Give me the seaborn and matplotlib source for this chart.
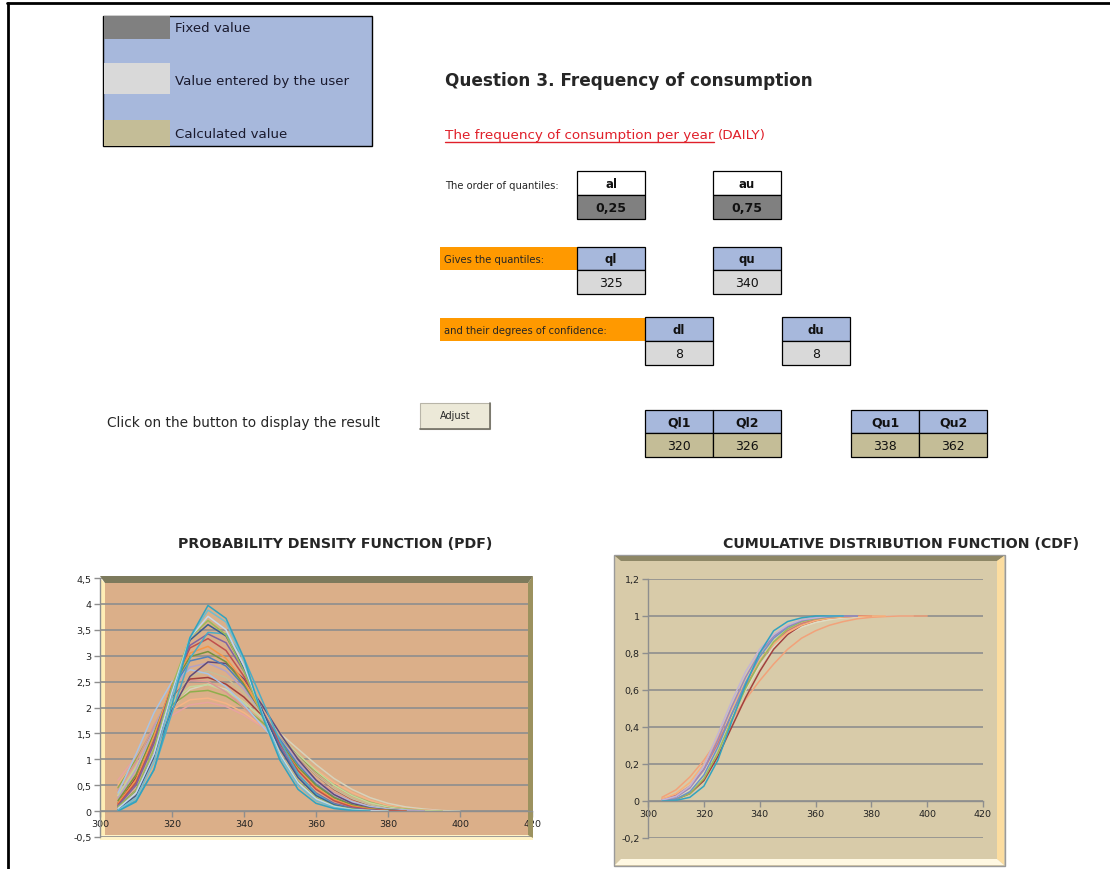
import pandas as pd
import matplotlib
matplotlib.use("Agg")
import matplotlib.pyplot as plt
from matplotlib.patches import Rectangle, Polygon
import seaborn as sns

W, H = 1110, 870

# ── DATA ─────────────────────────────────────────────────────
legend_labels = ["Fixed value", "Value entered by the user", "Calculated value"]
order_names = ["al", "au"]
order_values = ["0,25", "0,75"]
quantile_names = ["ql", "qu"]
quantile_values = ["325", "340"]
conf_names = ["dl", "du"]
conf_values = ["8", "8"]
ql_names = ["Ql1", "Ql2"]
ql_values = ["320", "326"]
qu_names = ["Qu1", "Qu2"]
qu_values = ["338", "362"]

x_ticks = [300, 320, 340, 360, 380, 400, 420]
pdf_yticks = [-0.5, 0, 0.5, 1, 1.5, 2, 2.5, 3, 3.5, 4, 4.5]
cdf_yticks = [-0.2, 0, 0.2, 0.4, 0.6, 0.8, 1, 1.2]

grid_x = [305, 310, 315, 320, 325, 330, 335, 340, 345, 350,
          355, 360, 365, 370, 375, 380, 385, 390, 395, 400]

# PDF curves (values read at grid_x, each curve ends where its list ends)
pdf_aqua = [0.0, 0.18, 0.8, 2.05, 3.35, 3.97, 3.72, 2.95, 1.85, 0.98, 0.42, 0.15, 0.05, 0.01, 0.0]
pdf_aqua_lt = [0.02, 0.25, 0.95, 2.2, 3.35, 3.88, 3.65, 2.9, 1.9, 1.05, 0.5, 0.2, 0.07, 0.02, 0.0]
pdf_ice = [0.05, 0.35, 1.1, 2.3, 3.35, 3.76, 3.5, 2.8, 1.9, 1.1, 0.55, 0.24, 0.09, 0.03, 0.01, 0.0]
pdf_green = [0.08, 0.4, 1.2, 2.4, 3.35, 3.68, 3.4, 2.7, 1.85, 1.1, 0.57, 0.26, 0.1, 0.04, 0.01, 0.0]
pdf_navy = [0.04, 0.3, 1.05, 2.3, 3.3, 3.6, 3.38, 2.75, 1.95, 1.2, 0.65, 0.3, 0.12, 0.04, 0.01, 0.0]
pdf_teal = [0.02, 0.2, 0.8, 1.9, 2.95, 3.45, 3.42, 2.95, 2.15, 1.35, 0.72, 0.33, 0.13, 0.04, 0.01, 0.0]
pdf_purple = [0.1, 0.5, 1.3, 2.4, 3.2, 3.42, 3.25, 2.7, 1.95, 1.25, 0.7, 0.35, 0.15, 0.06, 0.02, 0.0]
pdf_red = [0.12, 0.55, 1.35, 2.4, 3.15, 3.33, 3.1, 2.6, 1.95, 1.3, 0.78, 0.42, 0.2, 0.08, 0.03, 0.01, 0.0]
pdf_orange = [0.15, 0.6, 1.45, 2.45, 3.05, 3.18, 2.95, 2.5, 1.9, 1.3, 0.8, 0.45, 0.22, 0.1, 0.04, 0.01, 0.0]
pdf_olive = [0.2, 0.7, 1.5, 2.4, 2.98, 3.08, 2.88, 2.45, 1.9, 1.33, 0.85, 0.5, 0.26, 0.12, 0.05, 0.02, 0.0]
pdf_blue = [0.1, 0.55, 1.4, 2.35, 2.9, 2.98, 2.8, 2.42, 1.92, 1.38, 0.9, 0.52, 0.27, 0.12, 0.05, 0.02, 0.0]
pdf_grape = [0.08, 0.4, 1.1, 1.95, 2.6, 2.88, 2.85, 2.55, 2.05, 1.5, 1.0, 0.6, 0.32, 0.15, 0.06, 0.02, 0.0]
pdf_lavender = [0.25, 0.8, 1.6, 2.35, 2.78, 2.86, 2.7, 2.35, 1.9, 1.4, 0.95, 0.58, 0.32, 0.16, 0.07, 0.03, 0.01, 0.0]
pdf_skyblue = [0.35, 1.1, 1.9, 2.5, 2.73, 2.65, 2.4, 2.05, 1.65, 1.25, 0.88, 0.57, 0.33, 0.18, 0.09, 0.04, 0.02, 0.0]
pdf_sand = [0.2, 0.7, 1.45, 2.15, 2.6, 2.7, 2.58, 2.28, 1.88, 1.45, 1.05, 0.7, 0.43, 0.24, 0.12, 0.05, 0.02, 0.0]
pdf_maroon = [0.15, 0.65, 1.45, 2.2, 2.55, 2.58, 2.45, 2.2, 1.85, 1.45, 1.05, 0.7, 0.42, 0.23, 0.11, 0.05, 0.02, 0.0]
pdf_rose = [0.4, 0.95, 1.65, 2.25, 2.52, 2.5, 2.3, 2.0, 1.65, 1.28, 0.92, 0.6, 0.36, 0.19, 0.09, 0.04, 0.01, 0.0]
pdf_lime = [0.3, 0.85, 1.55, 2.1, 2.4, 2.44, 2.32, 2.1, 1.8, 1.45, 1.1, 0.78, 0.5, 0.3, 0.16, 0.08, 0.03, 0.01, 0.0]
pdf_moss = [0.45, 1.0, 1.6, 2.05, 2.3, 2.33, 2.22, 2.0, 1.72, 1.4, 1.07, 0.76, 0.5, 0.3, 0.17, 0.08, 0.04, 0.01, 0.0]
pdf_peach = [0.5, 1.0, 1.55, 1.95, 2.15, 2.18, 2.08, 1.9, 1.65, 1.38, 1.08, 0.8, 0.55, 0.36, 0.21, 0.11, 0.05, 0.02, 0.0]
pdf_pink = [0.6, 1.05, 1.5, 1.85, 2.05, 2.1, 2.02, 1.85, 1.63, 1.38, 1.05, 0.75, 0.5, 0.3, 0.17, 0.09, 0.04, 0.02, 0.0]
pdf_beige = [0.3, 0.8, 1.45, 2.0, 2.35, 2.45, 2.35, 2.1, 1.8, 1.5, 1.2, 0.9, 0.63, 0.42, 0.26, 0.15, 0.08, 0.04, 0.01, 0.0]

# CDF curves
cdf_aqua = [0.0, 0.003, 0.02, 0.08, 0.22, 0.43, 0.63, 0.80, 0.92, 0.97, 0.99, 1.0, 1.0, 1.0]
cdf_peach = [0.02, 0.06, 0.13, 0.22, 0.33, 0.44, 0.55, 0.65, 0.74, 0.82, 0.88, 0.92, 0.95, 0.97, 0.985, 0.993, 0.997, 1.0, 1.0, 1.0]
cdf_blue = [0.0, 0.01, 0.05, 0.14, 0.29, 0.47, 0.64, 0.78, 0.88, 0.94, 0.975, 0.99, 0.997, 1.0, 1.0]
cdf_red = [0.01, 0.03, 0.08, 0.17, 0.31, 0.47, 0.62, 0.75, 0.85, 0.92, 0.96, 0.98, 0.99, 0.995, 1.0, 1.0]
cdf_green = [0.0, 0.01, 0.04, 0.12, 0.26, 0.44, 0.61, 0.75, 0.86, 0.93, 0.97, 0.985, 0.995, 1.0, 1.0]
cdf_purple = [0.005, 0.02, 0.07, 0.17, 0.33, 0.51, 0.67, 0.80, 0.89, 0.945, 0.975, 0.99, 0.996, 1.0, 1.0]
cdf_orange = [0.01, 0.04, 0.1, 0.2, 0.34, 0.5, 0.64, 0.76, 0.85, 0.91, 0.95, 0.975, 0.988, 0.995, 0.998, 1.0, 1.0]
cdf_lavender = [0.005, 0.025, 0.08, 0.19, 0.36, 0.54, 0.70, 0.82, 0.90, 0.95, 0.98, 0.99, 1.0, 1.0]
cdf_maroon = [0.0, 0.01, 0.04, 0.11, 0.24, 0.4, 0.56, 0.7, 0.82, 0.9, 0.95, 0.975, 0.99, 0.996, 1.0, 1.0]
cdf_beige = [0.005, 0.02, 0.06, 0.15, 0.29, 0.45, 0.6, 0.73, 0.83, 0.9, 0.94, 0.965, 0.98, 0.99, 0.995, 0.998, 1.0, 1.0, 1.0]

PDF_SERIES = [
    ("beige", pdf_beige, "#D7D3BC"), ("pink", pdf_pink, "#E6A3A1"),
    ("peach", pdf_peach, "#F6B386"), ("moss", pdf_moss, "#8FAE4C"),
    ("lime", pdf_lime, "#C3D69B"), ("rose", pdf_rose, "#D99694"),
    ("maroon", pdf_maroon, "#A2413E"), ("sand", pdf_sand, "#C4BD97"),
    ("skyblue", pdf_skyblue, "#A9C4E4"), ("lavender", pdf_lavender, "#B3A2C7"),
    ("grape", pdf_grape, "#604A7B"), ("blue", pdf_blue, "#4F81BD"),
    ("olive", pdf_olive, "#77933C"), ("orange", pdf_orange, "#F79646"),
    ("red", pdf_red, "#C0504D"), ("purple", pdf_purple, "#8064A2"),
    ("teal", pdf_teal, "#4BACC6"), ("navy", pdf_navy, "#3C5F8F"),
    ("green", pdf_green, "#9BBB59"), ("ice", pdf_ice, "#C5D6EA"),
    ("aqua_lt", pdf_aqua_lt, "#6FBDD1"), ("aqua", pdf_aqua, "#31A3BF"),
]
CDF_SERIES = [
    ("beige", cdf_beige, "#E0DCC4"), ("peach", cdf_peach, "#F2A27A"),
    ("maroon", cdf_maroon, "#A2413E"), ("red", cdf_red, "#D07A78"),
    ("orange", cdf_orange, "#F9B07A"), ("green", cdf_green, "#9BBB59"),
    ("blue", cdf_blue, "#6C93C6"), ("purple", cdf_purple, "#9D88BB"),
    ("lavender", cdf_lavender, "#C2B4D6"), ("aqua", cdf_aqua, "#31A3BF"),
]

BLUE, LGREY, DGREY, TAN, ORANGE = "#A7B8DC", "#D9D9D9", "#808080", "#C4BD97", "#FF9900"

sns.set_theme(style="white")
plt.rcParams["font.family"] = ["DejaVu Sans"]

fig = plt.figure(figsize=(W / 100, H / 100), dpi=100)
bg = fig.add_axes([0, 0, 1, 1], zorder=0)
bg.set_xlim(0, W); bg.set_ylim(H, 0); bg.axis("off")


def px_axes(left, top, w, h):
    return fig.add_axes([left / W, 1 - (top + h) / H, w / W, h / H], zorder=2)


def cell(x, y, w, h, fc, text, bold=False, size=8.5):
    bg.add_patch(Rectangle((x, y), w, h, fc=fc, ec="black", lw=0.9))
    bg.text(x + w / 2, y + h / 2 + 0.5, text, ha="center", va="center",
            fontsize=size, fontweight="bold" if bold else "normal", color="#111111")


def comma(v):
    return f"{v:g}".replace(".", ",")


def long_table(series):
    rows = [(name, xv, yv) for name, vals, _ in series for xv, yv in zip(grid_x, vals)]
    return pd.DataFrame(rows, columns=["curve", "x", "y"])


# ── page frame ──
bg.plot([7, W], [4, 4], color="black", lw=2)
bg.plot([8, 8], [4, H], color="black", lw=2)

# ── legend box ──
bg.add_patch(Rectangle((103, 17), 269, 130, fc=BLUE, ec="black", lw=1))
for (y, h, c), lab, ty in zip([(17, 23, DGREY), (64, 31, LGREY), (121, 26, TAN)],
                              legend_labels, [29, 82, 134]):
    bg.add_patch(Rectangle((104, y), 66, h, fc=c, lw=0))
    bg.text(175, ty, lab, fontsize=9.6, va="center", color="#1a1a2e")

# ── headings ──
bg.text(445, 81, "Question 3. Frequency of consumption", fontsize=12.2,
        fontweight="bold", va="center")
red_t = bg.text(445, 135, "The frequency of consumption per year", fontsize=9.7,
                color="#E0202A", va="center")
fig.canvas.draw()
bb = red_t.get_window_extent(fig.canvas.get_renderer())
inv = bg.transData.inverted()
x0, yb = inv.transform((bb.x0, bb.y0))
x1, _ = inv.transform((bb.x1, bb.y0))
bg.plot([x0, x1], [yb + 1, yb + 1], color="#E0202A", lw=1)
bg.text(x1 + 4, 135, "(DAILY)", fontsize=9.7, color="#E0202A", va="center")

# ── input tables ──
bg.text(445, 186, "The order of quantiles:", fontsize=7.2, va="center")
for x, n, v in zip([577, 713], order_names, order_values):
    cell(x, 172, 68, 24, "white", n, bold=True)
    cell(x, 196, 68, 24, DGREY, v, bold=True, size=9)

bg.add_patch(Rectangle((440, 248), 137, 23, fc=ORANGE, lw=0))
bg.text(444, 260, "Gives the quantiles:", fontsize=7.2, va="center")
for x, n, v in zip([577, 713], quantile_names, quantile_values):
    cell(x, 248, 68, 23, BLUE, n, bold=True)
    cell(x, 271, 68, 24, LGREY, v, size=9)

bg.add_patch(Rectangle((440, 319), 205, 23, fc=ORANGE, lw=0))
bg.text(444, 331, "and their degrees of confidence:", fontsize=7.2, va="center")
for x, n, v in zip([645, 782], conf_names, conf_values):
    cell(x, 318, 68, 24, BLUE, n, bold=True)
    cell(x, 342, 68, 24, LGREY, v, size=9)

# ── button row ──
bg.text(107, 423, "Click on the button to display the result", fontsize=9.9, va="center")
bg.add_patch(Rectangle((420, 404), 70, 26, fc="#ECE9D8", ec="#B8B5A8", lw=0.8))
bg.plot([420, 490, 490], [430, 430, 404], color="#716F64", lw=1.2)
bg.text(455, 416, "Adjust", fontsize=7, ha="center", va="center")

for xs, names, vals in [([645, 713], ql_names, ql_values), ([851, 919], qu_names, qu_values)]:
    for x, n, v in zip(xs, names, vals):
        cell(x, 411, 68, 23, BLUE, n, bold=True, size=9)
        cell(x, 434, 68, 24, TAN, v, size=9)

# ── chart titles ──
bg.text(335, 544, "PROBABILITY DENSITY FUNCTION (PDF)", fontsize=10.2,
        fontweight="bold", ha="center", va="center")
bg.text(901, 544, "CUMULATIVE DISTRIBUTION FUNCTION (CDF)", fontsize=10.2,
        fontweight="bold", ha="center", va="center")

# ── PDF backdrop (3D wall look) ──
bg.add_patch(Rectangle((105, 584), 423, 252, fc="#DBAF89", lw=0))
bg.add_patch(Polygon([(100, 579), (105, 584), (105, 836), (100, 839)], fc="#FFEDB5", lw=0))
bg.add_patch(Rectangle((100, 836), 433, 5, fc="#FFF3C8", lw=0))

# ── CDF backdrop ──
bg.add_patch(Rectangle((614, 556), 391, 311, fc="#D8CBA9", ec="#9A9A9A", lw=1))
bg.add_patch(Polygon([(615, 557), (1004, 557), (997, 562), (621, 562)], fc="#8E8766", lw=0))
bg.add_patch(Polygon([(997, 562), (1004, 557), (1004, 866), (997, 860)], fc="#FCDDA0", lw=0))
bg.add_patch(Polygon([(615, 866), (621, 860), (997, 860), (1004, 866)], fc="#FFF8E2", lw=0))


def style_chart(ax, yticks):
    ax.set_facecolor("none")
    ax.set_xlim(x_ticks[0], x_ticks[-1])
    ax.set_ylim(yticks[0], yticks[-1])
    ax.set_xticks(x_ticks)
    ax.set_xticklabels([str(v) for v in x_ticks])
    ax.set_yticks(yticks)
    ax.set_yticklabels([comma(v) for v in yticks])
    ax.grid(axis="y", color="#8E8E8E", lw=1.2)
    ax.grid(axis="x", visible=False)
    ax.set_axisbelow(True)
    for s in ["top", "right"]:
        ax.spines[s].set_visible(False)
    ax.spines["bottom"].set_position(("data", 0))
    for s in ["left", "bottom"]:
        ax.spines[s].set_color("#8E8E8E")
        ax.spines[s].set_linewidth(1)
    ax.tick_params(axis="both", labelsize=6.8, colors="#8E8E8E", labelcolor="#222222",
                   length=4, width=1, direction="out", pad=2)
    ax.tick_params(axis="y", left=True)
    ax.tick_params(axis="x", bottom=True)
    ax.set_xlabel(""); ax.set_ylabel("")


# ── PDF chart ──
ax1 = px_axes(100, 579, 432, 259)
pdf_df = long_table(PDF_SERIES)
sns.lineplot(data=pdf_df, x="x", y="y", hue="curve",
             hue_order=[s[0] for s in PDF_SERIES],
             palette={s[0]: s[2] for s in PDF_SERIES},
             estimator=None, sort=True, legend=False, lw=1.1, ax=ax1)
style_chart(ax1, pdf_yticks)
ax1.add_patch(Polygon([(100, 577), (533, 577), (528, 584), (105, 584)], fc="#7D7A5C",
                      lw=0, transform=bg.transData, clip_on=False, zorder=5))
ax1.add_patch(Polygon([(528, 584), (533, 577), (533, 839), (528, 836)], fc="#9C925F",
                      lw=0, transform=bg.transData, clip_on=False, zorder=1.5))

# ── CDF chart ──
ax2 = px_axes(648, 580, 335, 259)
cdf_df = long_table(CDF_SERIES)
sns.lineplot(data=cdf_df, x="x", y="y", hue="curve",
             hue_order=[s[0] for s in CDF_SERIES],
             palette={s[0]: s[2] for s in CDF_SERIES},
             estimator=None, sort=True, legend=False, lw=1.1, ax=ax2)
style_chart(ax2, cdf_yticks)

fig.savefig("out.png", dpi=100)
